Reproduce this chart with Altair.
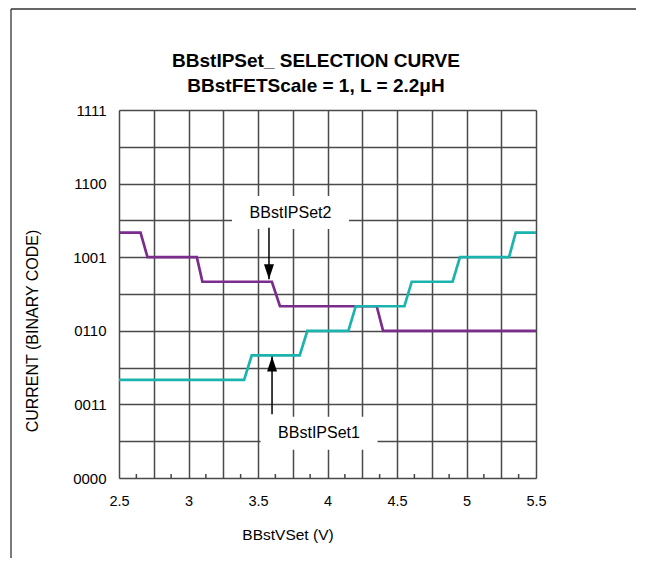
import altair as alt
import pandas as pd

# ---- text ----
title_lines = ["BBstIPSet_ SELECTION CURVE", "BBstFETScale = 1, L = 2.2\u03bcH"]
x_title = "BBstVSet (V)"
y_title = "CURRENT (BINARY CODE)"

# ---- axes ----
x_tick_values = [2.5, 3, 3.5, 4, 4.5, 5, 5.5]
x_tick_labels = ["2.5", "3", "3.5", "4", "4.5", "5", "5.5"]
x_grid = [2.5, 2.75, 3, 3.25, 3.5, 3.75, 4, 4.25, 4.5, 4.75, 5, 5.25, 5.5]
x_minor = [2.625, 2.875, 3.125, 3.375, 3.625, 3.875, 4.125, 4.375, 4.625, 4.875, 5.125, 5.375]
y_tick_values = [0, 3, 6, 9, 12, 15]
y_tick_labels = ["0000", "0011", "0110", "1001", "1100", "1111"]
y_grid = [0, 1.5, 3, 4.5, 6, 7.5, 9, 10.5, 12, 13.5, 15]

# ---- series ----
set2_v = [2.5, 2.655, 2.705, 3.06, 3.10, 3.60, 3.658, 4.354, 4.40, 5.5]
set2_code = [10, 10, 9, 9, 8, 8, 7, 7, 6, 6]
set1_v = [2.5, 3.40, 3.455, 3.80, 3.855, 4.15, 4.203, 4.553, 4.606, 4.90, 4.953, 5.306, 5.354, 5.5]
set1_code = [4, 4, 5, 5, 6, 6, 7, 7, 8, 8, 9, 9, 10, 10]
series_names = ["BBstIPSet2", "BBstIPSet1"]
series_colors = ["#7B2D8E", "#1BB3AD"]

# ---- annotations ----
label_names = ["BBstIPSet2", "BBstIPSet1"]
label_v = [3.734, 3.939]
label_code = [10.82, 1.82]
arrow_v = [3.579, 3.601]
arrow_tip = [8.1, 4.95]
arrow_tail = [10.2, 2.6]
arrow_dir = ["down", "up"]

FONT = "Liberation Sans, Arial, Helvetica, sans-serif"

def expr_lookup(values, labels):
    vals = ",".join(repr(v) for v in values)
    labs = ",".join("'" + l + "'" for l in labels)
    return f"indexof([{vals}], datum.value) >= 0 ? [{labs}][indexof([{vals}], datum.value)] : ''"

lines_df = pd.DataFrame({
    "v": set2_v + set1_v,
    "code": set2_code + set1_code,
    "series": [series_names[0]] * len(set2_v) + [series_names[1]] * len(set1_v),
    "order": list(range(len(set2_v))) + list(range(len(set1_v))),
})

xs = alt.Scale(domain=[2.5, 5.5], nice=False, zero=False)
ys = alt.Scale(domain=[0, 15], nice=False, zero=False)

x_axis = alt.Axis(values=x_grid, labelExpr=expr_lookup(x_tick_values, x_tick_labels),
                  grid=True, gridColor="#4a4a4a", gridWidth=1.5, gridOpacity=1,
                  ticks=False, domain=False, title=None, labelFont=FONT, labelFontSize=14.5,
                  labelColor="black", labelPadding=16, labelFlush=False, labelOverlap=False)
y_axis = alt.Axis(values=y_grid, labelExpr=expr_lookup(y_tick_values, y_tick_labels),
                  grid=True, gridColor="#4a4a4a", gridWidth=1.5, gridOpacity=1,
                  ticks=False, domain=False, title=None, labelFont=FONT, labelFontSize=15,
                  labelColor="black", labelPadding=13, labelFlush=False, labelOverlap=False)

X = lambda f: alt.X(f, scale=xs, axis=x_axis)
Y = lambda f: alt.Y(f, scale=ys, axis=y_axis)

lines = alt.Chart(lines_df).mark_line(strokeWidth=2.7).encode(
    x=X("v:Q"), y=Y("code:Q"),
    color=alt.Color("series:N", scale=alt.Scale(domain=series_names, range=series_colors), legend=None),
    order="order:Q",
)

minor_df = pd.DataFrame({"v": x_minor})
minor = alt.Chart(minor_df).mark_rule(color="#444", strokeWidth=1.5).encode(
    x=X("v:Q"), y=alt.value(364), y2=alt.value(368)
)

lab_df = pd.DataFrame({"name": label_names, "v": label_v, "code": label_code})
box_path = "M-1.17,-0.33H1.17V0.33H-1.17Z"
boxes = alt.Chart(lab_df).mark_point(shape=box_path, size=10000, filled=True, fill="white",
                                     opacity=1, strokeWidth=0).encode(
    x=X("v:Q"), y=Y("code:Q")
)
labels = alt.Chart(lab_df).mark_text(font=FONT, fontSize=16, color="black", baseline="middle",
                                     align="center").encode(
    x=X("v:Q"), y=Y("code:Q"), text="name:N"
)

arr_df = pd.DataFrame({"v": arrow_v, "tip": arrow_tip, "tail": arrow_tail, "dir": arrow_dir})
shafts = alt.Chart(arr_df).mark_rule(color="black", strokeWidth=1.5).encode(
    x=X("v:Q"), y=Y("tip:Q"), y2="tail:Q"
)
heads = alt.Chart(arr_df).mark_point(filled=True, color="black", opacity=1, size=100,
                                     strokeWidth=0).encode(
    x=X("v:Q"), y=Y("tip:Q"),
    shape=alt.Shape("dir:N", scale=alt.Scale(domain=["down", "up"],
                    range=["M-1,-3L1,-3L0,0Z", "M-1,3L1,3L0,0Z"]), legend=None),
)

one = pd.DataFrame({"a": [0]})
title1 = alt.Chart(one).mark_text(text=title_lines[0], font=FONT, fontSize=19, fontWeight="bold",
                                  color="black").encode(x=alt.value(197), y=alt.value(-49))
title2 = alt.Chart(one).mark_text(text=title_lines[1], font=FONT, fontSize=19, fontWeight="bold",
                                  color="black").encode(x=alt.value(197), y=alt.value(-24))
xt = alt.Chart(one).mark_text(text=x_title, font=FONT, fontSize=15.5, color="black").encode(
    x=alt.value(169), y=alt.value(425))
yt = alt.Chart(one).mark_text(text=y_title, font=FONT, fontSize=16, color="black", angle=270).encode(
    x=alt.value(-86), y=alt.value(221))

frame_left = alt.Chart(one).mark_rule(color="#333", strokeWidth=1.3).encode(
    x=alt.value(-108), y=alt.value(-101), y2=alt.value(470))
frame_top = alt.Chart(one).mark_rule(color="#333", strokeWidth=1.3).encode(
    x=alt.value(-108), x2=alt.value(527), y=alt.value(-101))

chart = alt.layer(
    lines, minor, boxes, labels, shafts, heads, title1, title2, xt, yt, frame_left, frame_top
).properties(
    width=417, height=368,
    autosize=alt.AutoSizeParams(type="none"),
    padding={"left": 111, "top": 102, "right": 100, "bottom": 80},
).configure_view(stroke="black", strokeWidth=3).configure(background="white")

chart.save("out.html", embed_options={"renderer": "svg", "actions": False})
